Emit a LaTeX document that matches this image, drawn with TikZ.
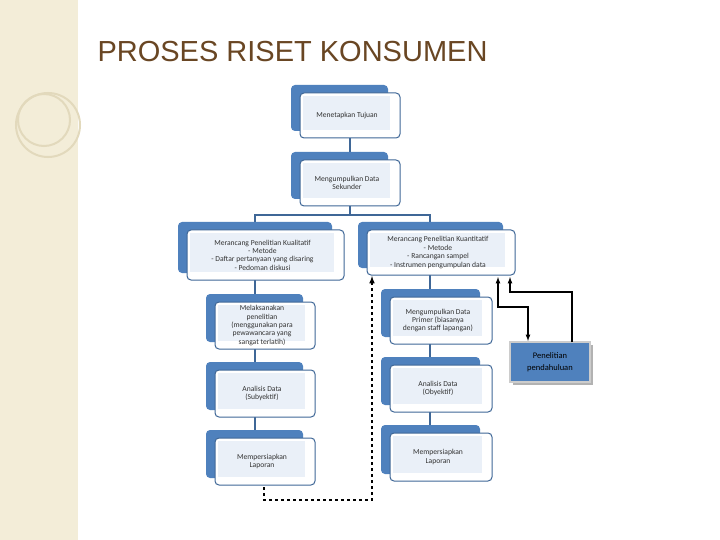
\documentclass[tikz,border=0pt]{standalone}
\usepackage{fontspec}
\setmainfont{Carlito}
\newfontfamily\titlefont{Liberation Sans}
\begin{document}
\begin{tikzpicture}[x=1pt,y=-1pt,
  lbl/.style={align=center, font=\fontsize{7.6}{8.4}\selectfont, text=black!80},
  conn/.style={draw=bk!80!black, line width=1.5pt},
  arr/.style={line width=1.2pt, -latex}]
\definecolor{bk}{HTML}{4F81BD}
\definecolor{inb}{HTML}{EAF0F8}
\definecolor{strip}{HTML}{F3EDD8}
\definecolor{ring}{HTML}{E2D9BC}
\useasboundingbox (0,0) rectangle (720,540);
\fill[white] (0,0) rectangle (720,540);
\fill[strip] (0,0) rectangle (78,540);
\draw[ring, line width=2pt] (48,125) circle (32);
\draw[ring, line width=2pt] (44,120) circle (26);
\node[anchor=west, font=\titlefont\fontsize{29}{32}\selectfont, text=brown!55!black] (title) at (94,52) {PROSES RISET KONSUMEN};
\tikzset{back/.style={fill=bk, rounded corners=4pt}, front/.style={draw=bk!80!black, fill=white, line width=1pt, rounded corners=4pt}}
\draw[conn] (350,138) -- (350,160);
\draw[conn] (350,206) -- (350,215) coordinate (j) -- (255,215) coordinate (jl) -- (255,230);
\draw[conn] (j) -- (430,215) -- (430,230);
\draw[conn] (255,280) -- (255,302);
\draw[conn] (255,349) -- (255,370);
\draw[conn] (255,417) -- (255,438);
\draw[conn] (430,275) -- (430,297);
\draw[conn] (430,344) -- (430,365);
\draw[conn] (430,412) -- (430,433);
\foreach \n/\xa/\ya/\xb/\yb/\t in {
 tujuan/300/93/400/138/{Menetapkan Tujuan},
 sek/300/160/400/206/{Mengumpulkan Data\\Sekunder},
 kual/187/230/344/280/{Merancang Penelitian Kualitatif\\- Metode\\- Daftar pertanyaan yang disaring\\- Pedoman diskusi},
 kuan/367/230/515/275/{Merancang Penelitian Kuantitatif\\- Metode\\- Rancangan sampel\\- Instrumen pengumpulan data},
 mel/215/302/315/349/{Melaksanakan\\penelitian\\(menggunakan para\\pewawancara yang\\sangat terlatih)},
 ans/215/370/315/417/{Analisis Data\\(Subyektif)},
 lapl/215/438/315/485/{Mempersiapkan\\Laporan},
 prim/390/297/492/344/{Mengumpulkan Data\\Primer (biasanya\\dengan staff lapangan)},
 ano/390/365/492/412/{Analisis Data\\(Obyektif)},
 lapr/390/433/492/481/{Mempersiapkan\\Laporan}}
{
 \fill[back] (\xa-9,\ya-8) rectangle (\xb-12,\yb-7);
 \draw[front] (\xa,\ya) rectangle (\xb,\yb);
 \fill[inb] (\xa+3,\ya+3) rectangle (\xb-10,\yb-8);
 \node[lbl] (\n) at ({(\xa+\xb)/2-3},{(\ya+\yb)/2}) {\t};
}
\fill[black!30] (513,345) rectangle (593,385);
\node[draw=black!20, line width=1.5pt, fill=bk, minimum width=80pt, minimum height=40pt, inner sep=0, align=center, text=black, font=\fontsize{8.5}{12}\selectfont] (pen) at (550,362) {Penelitian\\pendahuluan};
\draw[arr, dashed, line width=1.5pt] (264,487) -- (264,500) -- (372,500) -- (372,276);
\draw[arr, latex-latex] (498,277) -- (498,307) -- (528,307) -- (528,341);
\draw[arr] (572,342) -- (572,292) -- (510,292) -- (510,277);
\end{tikzpicture}
\end{document}
